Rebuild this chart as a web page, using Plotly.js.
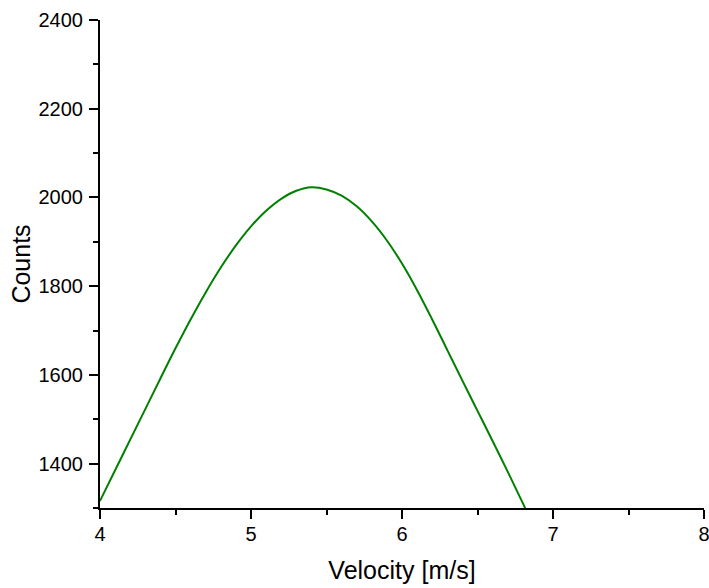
<!DOCTYPE html>
<html>
<head>
<meta charset="utf-8">
<script src="https://cdn.plot.ly/plotly-3.0.1.min.js"></script>
<style>html,body{margin:0;padding:0;background:#fff;}#chart{width:709px;height:588px;}</style>
</head>
<body>
<div id="chart"></div>
<script>
const velocity = [4.0, 4.1, 4.2, 4.3, 4.4, 4.5, 4.6, 4.7, 4.8, 4.9, 5.0, 5.1, 5.2, 5.3, 5.4, 5.5, 5.6, 5.7, 5.8, 5.9, 6.0, 6.1, 6.2, 6.3, 6.4, 6.5, 6.6, 6.7, 6.8, 6.9];
const counts = [1316, 1385, 1454, 1523, 1592, 1660, 1725, 1786, 1842, 1892, 1935, 1970, 1997, 2015, 2023, 2018, 2004, 1980, 1946, 1903, 1851, 1791, 1725, 1656, 1587, 1519, 1451, 1382, 1311, 1238];
const xTitle = 'Velocity [m/s]';
const yTitle = 'Counts';

const font = 'Arial, "Liberation Sans", sans-serif';

Plotly.newPlot('chart', [{
  x: velocity,
  y: counts,
  type: 'scatter',
  mode: 'lines',
  line: {color: '#008000', width: 2, shape: 'spline', smoothing: 1},
  hoverinfo: 'none'
}], {
  width: 709,
  height: 588,
  margin: {l: 100, r: 5, t: 20, b: 80},
  paper_bgcolor: '#fff',
  plot_bgcolor: '#fff',
  showlegend: false,
  font: {family: font, color: '#000'},
  xaxis: {
    range: [4, 8],
    dtick: 1,
    tick0: 4,
    showgrid: false,
    zeroline: false,
    showline: true,
    linecolor: '#000',
    linewidth: 2,
    ticks: 'outside',
    ticklen: 9,
    tickwidth: 2,
    tickcolor: '#000',
    ticklabeloverflow: 'allow',
    ticklabelstandoff: -2,
    tickfont: {size: 20, family: font, color: '#000'},
    minor: {dtick: 0.5, ticks: 'outside', ticklen: 5, tickwidth: 2, tickcolor: '#000', showgrid: false},
    title: {text: xTitle, font: {size: 25, family: font, color: '#000'}, standoff: 17}
  },
  yaxis: {
    range: [1300, 2400],
    dtick: 200,
    tick0: 1400,
    showgrid: false,
    zeroline: false,
    showline: true,
    linecolor: '#000',
    linewidth: 2,
    ticks: 'outside',
    ticklen: 9,
    tickwidth: 2,
    tickcolor: '#000',
    ticklabelstandoff: 2,
    tickfont: {size: 20, family: font, color: '#000'},
    minor: {dtick: 100, ticks: 'outside', ticklen: 5, tickwidth: 2, tickcolor: '#000', showgrid: false},
    title: {text: yTitle, font: {size: 25, family: font, color: '#000'}, standoff: 1}
  }
}, {displayModeBar: false, staticPlot: true});
</script>
</body>
</html>
